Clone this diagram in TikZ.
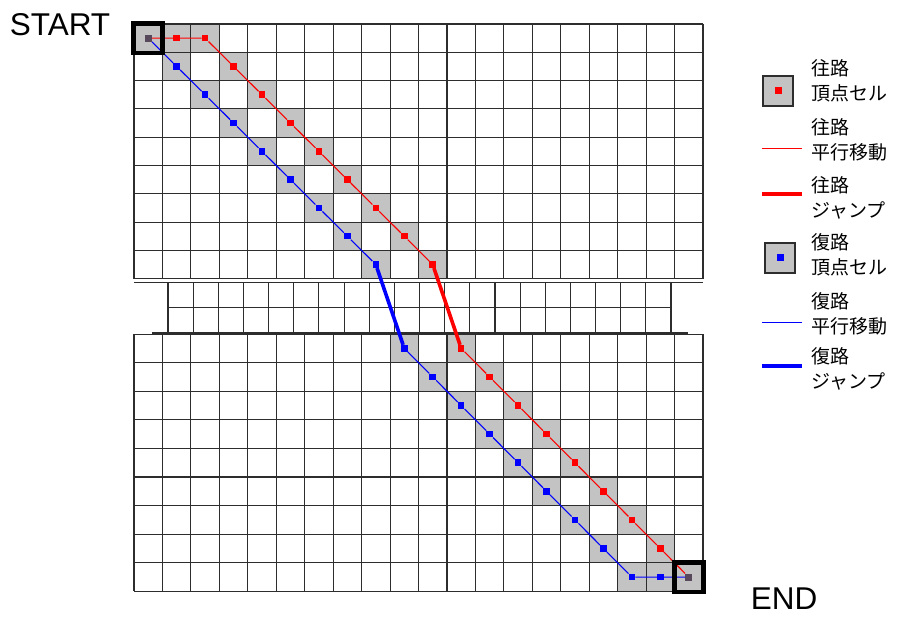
\documentclass[tikz,border=0pt]{standalone}
\usepackage{fontspec}
\setmainfont{Liberation Sans}
\newfontfamily\jp{Noto Sans CJK JP}
\definecolor{gridc}{RGB}{45,45,45}
\definecolor{cellg}{RGB}{195,195,195}
\definecolor{rd}{RGB}{255,0,0}
\definecolor{bl}{RGB}{0,0,255}
\definecolor{sdot}{RGB}{88,72,92}
\begin{document}
\begin{tikzpicture}[x=1pt,y=-1pt,
  gridline/.style={draw=gridc,line width=1.1pt},
  rdot/.style={rectangle,fill=rd,minimum size=6.5pt,inner sep=0pt},
  bdot/.style={rectangle,fill=bl,minimum size=6.5pt,inner sep=0pt},
  sedot/.style={rectangle,fill=sdot,minimum size=7pt,inner sep=0pt},
  rthin/.style={draw=rd,line width=1.1pt},
  bthin/.style={draw=bl,line width=1.1pt},
  rthick/.style={draw=rd,line width=3.6pt},
  bthick/.style={draw=bl,line width=3.6pt},
  frame/.style={draw=black,line width=4.6pt},
  legsq/.style={rectangle,draw=gridc,line width=1.1pt,fill=cellg,minimum size=30pt,inner sep=0pt},
  legtxt/.style={anchor=west,align=left,inner sep=0pt,font=\jp\fontsize{19}{25}\selectfont},
  bigtxt/.style={inner sep=0pt,font=\fontsize{31.5}{36}\selectfont}
]
\useasboundingbox (0,0) rectangle (902,617);
\fill[white] (0,0) rectangle (902,617);

% ---------- gray vertex cells, top grid ----------
\foreach \c/\r in {0/0,1/0,2/0,3/1,4/2,5/3,6/4,7/5,8/6,9/7,10/8,
                   1/1,2/2,3/3,4/4,5/5,6/6,7/7,8/8}
  \fill[cellg] ({134+28.45*\c},{24+28.3*\r}) rectangle ++(28.45,28.3);
% ---------- gray vertex cells, bottom grid ----------
\foreach \c/\r in {9/0,10/1,11/2,12/3,13/4,14/5,15/6,16/7,17/8,18/8,19/8,
                   11/0,12/1,13/2,14/3,15/4,16/5,17/6,18/7}
  \fill[cellg] ({134+28.45*\c},{334+28.6*\r}) rectangle ++(28.45,28.6);

% ---------- top grid ----------
\foreach \i in {0,...,20}
  \draw[gridline] ({134+28.45*\i},24) -- ({134+28.45*\i},278.7);
\foreach \j in {0,...,9}
  \draw[gridline] (134,{24+28.3*\j}) -- (703,{24+28.3*\j});

% ---------- middle section ----------
\draw[gridline] (134,282.6) -- (703,282.6);
\foreach \i in {0,...,20}
  \draw[gridline] ({168+25.15*\i},282.6) -- ({168+25.15*\i},333);
\draw[gridline] (168,307.8) -- (671,307.8);
\draw[draw=gridc,line width=1.8pt] (152,333) -- (688,333);

% ---------- bottom grid ----------
\foreach \i in {0,...,20}
  \draw[gridline] ({134+28.45*\i},334.5) -- ({134+28.45*\i},591.4);
\foreach \j in {1,...,9}
  \draw[gridline] (134,{334+28.6*\j}) -- (703,{334+28.6*\j});
\draw[gridline] (134,334.5) -- (703,334.5);

% ---------- path vertices ----------
\node[sedot] (S) at ({134+28.45*0.5},{24+28.3*0.5}) {};
\node[sedot] (E) at ({134+28.45*19.5},{334+28.6*8.5}) {};
% outbound (red), top
\foreach \c/\r in {1/0,2/0,3/1,4/2,5/3,6/4,7/5,8/6,9/7,10/8}
  \node[rdot] (r\c) at ({134+28.45*(\c+0.5)},{24+28.3*(\r+0.5)}) {};
% return (blue), top
\foreach \c in {1,...,8}
  \node[bdot] (b\c) at ({134+28.45*(\c+0.5)},{24+28.3*(\c+0.5)}) {};
% outbound (red), bottom
\foreach \c/\r in {11/0,12/1,13/2,14/3,15/4,16/5,17/6,18/7}
  \node[rdot] (R\c) at ({134+28.45*(\c+0.5)},{334+28.6*(\r+0.5)}) {};
% return (blue), bottom
\foreach \c/\r in {9/0,10/1,11/2,12/3,13/4,14/5,15/6,16/7,17/8,18/8}
  \node[bdot] (B\c) at ({134+28.45*(\c+0.5)},{334+28.6*(\r+0.5)}) {};

% ---------- connectors ----------
\draw[rthin] (S) -- (r1) -- (r2) -- (r3) -- (r4) -- (r5) -- (r6) -- (r7) -- (r8) -- (r9) -- (r10);
\draw[bthin] (S) -- (b1) -- (b2) -- (b3) -- (b4) -- (b5) -- (b6) -- (b7) -- (b8);
\draw[rthick] (r10) -- (R11);
\draw[bthick] (b8) -- (B9);
\draw[rthin] (R11) -- (R12) -- (R13) -- (R14) -- (R15) -- (R16) -- (R17) -- (R18) -- (E);
\draw[bthin] (B9) -- (B10) -- (B11) -- (B12) -- (B13) -- (B14) -- (B15) -- (B16) -- (B17) -- (B18) -- (E);

% ---------- start / end frames ----------
\node[frame,rectangle,minimum width=29pt,minimum height=29.5pt,inner sep=0pt] (Sf) at (S) {};
\node[frame,rectangle,minimum width=29pt,minimum height=29.5pt,inner sep=0pt] (Ef) at (E) {};
\node[bigtxt] (st) at (60,24.5) {START};
\node[bigtxt] (en) at (784,598.5) {END};

% ---------- legend ----------
\node[legsq] (lg1) at (778,91) {};
\node[rdot,minimum size=7pt] (lg1d) at (lg1) {};
\node[legtxt] (lt1) at (811,81) {往路\\頂点セル};

\coordinate (l2a) at (762,148.5); \coordinate (l2b) at (802,148.5);
\draw[rthin] (l2a) -- (l2b);
\node[legtxt] (lt2) at (811,140) {往路\\平行移動};

\coordinate (l3a) at (762,194); \coordinate (l3b) at (802,194);
\draw[rthick] (l3a) -- (l3b);
\node[legtxt] (lt3) at (811,198) {往路\\ジャンプ};

\node[legsq] (lg4) at (780,258) {};
\node[bdot,minimum size=7pt] (lg4d) at (lg4) {};
\node[legtxt] (lt4) at (811,255) {復路\\頂点セル};

\coordinate (l5a) at (762,322.5); \coordinate (l5b) at (802,322.5);
\draw[bthin] (l5a) -- (l5b);
\node[legtxt] (lt5) at (811,314) {復路\\平行移動};

\coordinate (l6a) at (762,366); \coordinate (l6b) at (802,366);
\draw[bthick] (l6a) -- (l6b);
\node[legtxt] (lt6) at (811,369) {復路\\ジャンプ};
\end{tikzpicture}
\end{document}
